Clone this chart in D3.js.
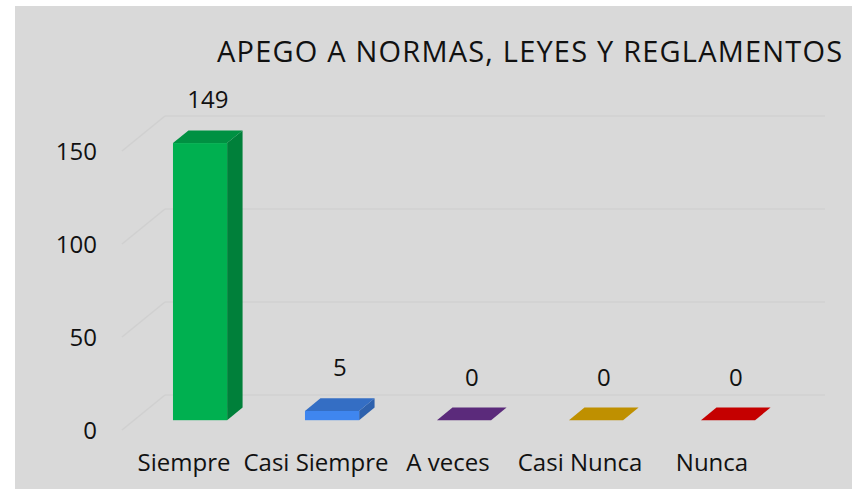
<!DOCTYPE html>
<html lang="es">
<head>
    <meta charset="UTF-8">
    <title>Apego a normas, leyes y reglamentos</title>
    <script src="https://d3js.org/d3.v7.min.js"></script>
    <style>
        body {
            margin: 0;
            padding: 0;
            background-color: #fff;
            font-family: "Open Sans", sans-serif;
        }
        svg text { fill: #111; }
        .grid line { stroke: #d0d0d0; stroke-width: 1.5; }
        .tick-label { font-size: 24px; text-anchor: end; }
        .cat-label { font-size: 24px; text-anchor: middle; }
        .value-label { font-size: 24px; text-anchor: middle; }
        .title { font-size: 29px; letter-spacing: 1.2px; }
    </style>
</head>
<body>
    <svg id="chart" width="857" height="489"></svg>

    <script>
        // datos
        const categories = ["Siempre", "Casi Siempre", "A veces", "Casi Nunca", "Nunca"];
        const values = [149, 5, 0, 0, 0];
        const yTicks = [0, 50, 100, 150];
        const colors = ["#00b050", "#3f86ef", "#5b2a7b", "#bf9000", "#c50000"];
        const title = "APEGO A NORMAS, LEYES Y REGLAMENTOS";

        const svg = d3.select("#chart");

        // panel gris
        svg.append("rect")
            .attr("x", 15).attr("y", 6)
            .attr("width", 837).attr("height", 483)
            .attr("fill", "#d9d9d9");

        // plano frontal del grafico 3D
        const x = d3.scaleBand()
            .domain(categories)
            .range([122, 782]);

        const y = d3.scaleLinear()
            .domain([0, 150])
            .range([430, 151]);

        // profundidad
        const depth = { dx: 43, dy: -35 };
        const f1 = 0.28, f2 = 0.64;
        const barFrac = 0.41;

        // lineas de cuadricula (diagonal + plano del fondo)
        const grid = svg.append("g").attr("class", "grid");
        yTicks.forEach(t => {
            grid.append("line")
                .attr("x1", x.range()[0]).attr("y1", y(t))
                .attr("x2", x.range()[0] + depth.dx).attr("y2", y(t) + depth.dy);
            grid.append("line")
                .attr("x1", x.range()[0] + depth.dx).attr("y1", y(t) + depth.dy)
                .attr("x2", x.range()[1] + depth.dx).attr("y2", y(t) + depth.dy);
        });

        // etiquetas del eje y
        svg.selectAll(".tick-label")
            .data(yTicks)
            .enter().append("text")
            .attr("class", "tick-label")
            .attr("x", 97)
            .attr("y", d => y(d) + 8.5)
            .text(d => d);

        // barras 3D
        const bw = x.bandwidth() * barFrac;
        const ox = depth.dx * f1, oy = depth.dy * f1;
        const bx = (f2 - f1) * depth.dx, by = (f2 - f1) * depth.dy;

        const bars = svg.selectAll(".bar")
            .data(values.map((v, i) => ({ cat: categories[i], v, c: colors[i] })))
            .enter().append("g")
            .attr("class", "bar");

        bars.each(function (d) {
            const g = d3.select(this);
            const x0 = x(d.cat) + x.bandwidth() / 2 - bw / 2 + ox;
            const x1 = x0 + bw;
            const yb = y(0) + oy;
            const yt = y(d.v) + oy;
            const col = d3.color(d.c);
            // cara lateral
            g.append("path")
                .attr("d", `M${x1},${yb} L${x1 + bx},${yb + by} L${x1 + bx},${yt + by} L${x1},${yt} Z`)
                .attr("fill", col.darker(0.9));
            // cara frontal
            g.append("rect")
                .attr("x", x0).attr("y", yt)
                .attr("width", bw).attr("height", yb - yt)
                .attr("fill", d.c);
            // cara superior
            g.append("path")
                .attr("d", `M${x0},${yt} L${x0 + bx},${yt + by} L${x1 + bx},${yt + by} L${x1},${yt} Z`)
                .attr("fill", d.v > 0 ? col.darker(0.55) : d.c);
            // etiqueta de valor
            g.append("text")
                .attr("class", "value-label")
                .attr("x", (x0 + x1 + bx) / 2)
                .attr("y", yt + by - 22)
                .text(d.v);
        });

        // etiquetas de categorias
        svg.selectAll(".cat-label")
            .data(categories)
            .enter().append("text")
            .attr("class", "cat-label")
            .attr("x", d => x(d) + x.bandwidth() / 2 - 4)
            .attr("y", 471)
            .text(d => d);

        // titulo
        svg.append("text")
            .attr("class", "title")
            .attr("x", 217)
            .attr("y", 62)
            .text(title);
    </script>
</body>
</html>
